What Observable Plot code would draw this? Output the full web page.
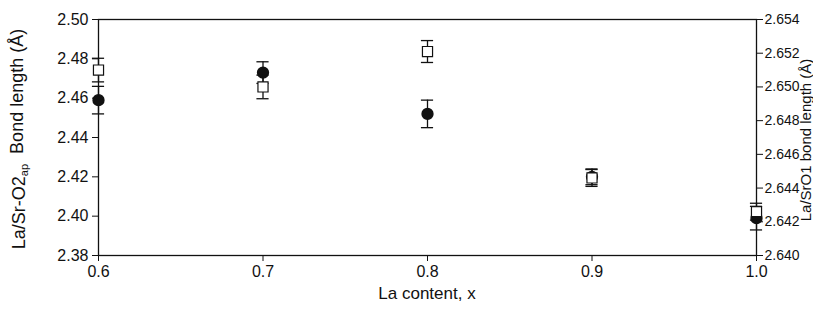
<!DOCTYPE html>
<html>
<head>
<meta charset="utf-8">
<script src="https://cdn.jsdelivr.net/npm/d3@7"></script>
<script src="https://cdn.jsdelivr.net/npm/@observablehq/plot@0.6"></script>
<style>
  html, body { margin: 0; padding: 0; background: #fff; }
  #chart { width: 813px; height: 326px; }
</style>
</head>
<body>
<div id="chart"></div>
<script>
// ---- data ----
const laContent   = [0.6, 0.7, 0.8, 0.9, 1.0];
// filled circles: La/Sr-O2ap bond length (left axis, Å)
const o2apBond    = [2.459, 2.473, 2.452, 2.420, 2.399];
const o2apErr     = [0.007, 0.0055, 0.007, 0.004, 0.006];
// open squares: La/SrO1 bond length (right axis, Å)
const o1Bond      = [2.6510, 2.6500, 2.6521, 2.6446, 2.6426];
const o1Err       = [0.0007, 0.0007, 0.00065, 0.0005, 0.0005];
// tick labels
const xTicks      = [0.6, 0.7, 0.8, 0.9, 1.0];
const leftTicks   = [2.38, 2.40, 2.42, 2.44, 2.46, 2.48, 2.50];
const rightTicks  = [2.640, 2.642, 2.644, 2.646, 2.648, 2.650, 2.652, 2.654];
// axis titles
const xTitle = "La content, x";
const leftTitle = ["La/Sr-O2", "ap", "Bond length (Å)"];
const rightTitle = "La/SrO1 bond length (Å)";

// map right-axis values onto the left-axis scale
const leftDomain = [2.38, 2.50];
const rightDomain = [2.640, 2.654];
const toLeft = v => leftDomain[0] + (v - rightDomain[0]) * (leftDomain[1] - leftDomain[0]) / (rightDomain[1] - rightDomain[0]);

const circles = laContent.map((x, i) => ({x, y: o2apBond[i], lo: o2apBond[i] - o2apErr[i], hi: o2apBond[i] + o2apErr[i]}));
const squares = laContent.map((x, i) => ({x, y: toLeft(o1Bond[i]), lo: toLeft(o1Bond[i] - o1Err[i]), hi: toLeft(o1Bond[i] + o1Err[i])}));

const capHalf = 0.0037; // half-width of error-bar caps in x units
const errMarks = data => [
  Plot.ruleX(data, {x: "x", y1: "lo", y2: "hi", stroke: "#111", strokeWidth: 1.3}),
  Plot.ruleY(data, {y: "hi", x1: d => d.x - capHalf, x2: d => d.x + capHalf, stroke: "#111", strokeWidth: 1.3}),
  Plot.ruleY(data, {y: "lo", x1: d => d.x - capHalf, x2: d => d.x + capHalf, stroke: "#111", strokeWidth: 1.3})
];

const W = 813, H = 310, mL = 98, mR = 57, mT = 19, mB = 55;
const FONT = "'Liberation Sans', Arial, sans-serif";

const chart = Plot.plot({
  width: W,
  height: H,
  marginLeft: mL,
  marginRight: mR,
  marginTop: mT,
  marginBottom: mB,
  style: {fontFamily: FONT, fontSize: "16px", color: "#111", background: "#fff"},
  x: {domain: [0.6, 1.0]},
  y: {domain: leftDomain},
  marks: [
    Plot.frame({stroke: "#111", strokeWidth: 1.3}),
    Plot.axisX({ticks: xTicks, tickFormat: d => d.toFixed(1), tickSize: 6, tickPadding: 4, label: null}),
    Plot.axisY({anchor: "left", ticks: leftTicks, tickFormat: d => d.toFixed(2), tickSize: 6, tickPadding: 4, label: null}),
    Plot.axisY({anchor: "right", ticks: rightTicks.map(toLeft), tickFormat: (d, i) => rightTicks[i].toFixed(3), tickSize: 6, tickPadding: 2, label: null}),
    ...errMarks(circles),
    Plot.dot(circles, {x: "x", y: "y", r: 5.4, fill: "#111", stroke: "#111"}),
    ...errMarks(squares),
    Plot.dot(squares, {x: "x", y: "y", symbol: "square", r: 5.7, fill: "#fff", stroke: "#111", strokeWidth: 1.2})
  ]
});

document.getElementById("chart").appendChild(chart);

const svg = d3.select(chart);
// tick label sizes: left / bottom 16px, right 14px
svg.selectAll("g[aria-label='x-axis tick label'], g[aria-label='y-axis tick label']").each(function() {
  const grp = d3.select(this);
  const isRight = grp.attr("text-anchor") === "start";
  grp.attr("font-size", isRight ? 14 : 16).selectAll("text").style("font-size", isRight ? "14px" : "16px");
});

// axis titles
const midY = (mT + (H - mB)) / 2;
const g = svg.append("g").attr("fill", "#111").attr("font-family", FONT);
g.append("text").attr("x", (mL + W - mR) / 2).attr("y", 299).attr("text-anchor", "middle")
  .style("font-size", "17px").text(xTitle);
const lt = g.append("text").attr("transform", `translate(25,${midY + 2}) rotate(-90)`).attr("text-anchor", "middle").style("font-size", "18px");
lt.append("tspan").text(leftTitle[0]);
lt.append("tspan").text(leftTitle[1]).attr("dy", "0.3em").style("font-size", "11px");
lt.append("tspan").text(leftTitle[2]).attr("dy", "-0.3em").attr("dx", 10);
g.append("text").attr("transform", `translate(811,${midY + 3}) rotate(-90)`).attr("text-anchor", "middle")
  .style("font-size", "15px").text(rightTitle);
</script>
</body>
</html>
